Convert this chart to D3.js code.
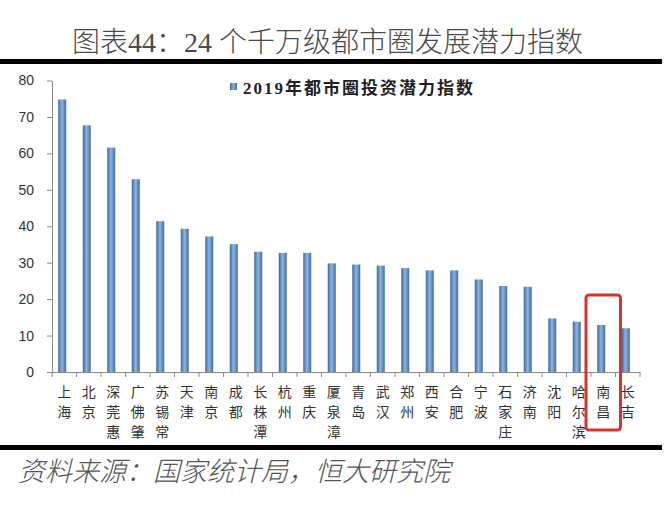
<!DOCTYPE html>
<html><head><meta charset="utf-8">
<script src="https://cdn.jsdelivr.net/npm/d3@7"></script>
<style>body{margin:0;background:#fff}svg{display:block}</style>
</head><body><svg id="c" width="669" height="509"></svg>
<script>
const categories = ["上海","北京","深莞惠","广佛肇","苏锡常","天津","南京","成都","长株潭","杭州","重庆","厦泉漳","青岛","武汉","郑州","西安","合肥","宁波","石家庄","济南","沈阳","哈尔滨","南昌","长吉"];
const values = [74.8,67.7,61.6,52.9,41.4,39.3,37.2,35.1,33.0,32.7,32.7,29.8,29.5,29.2,28.5,27.9,27.9,25.4,23.6,23.4,14.7,13.8,12.9,12.0];
const yTicks = [0,10,20,30,40,50,60,70,80];
const seriesName = "2019年都市圈投资潜力指数";
const titleText = "图表44：24 个千万级都市圈发展潜力指数";
const sourceText = "资料来源：国家统计局，恒大研究院";
const highlight = "南昌";

const svg = d3.select("#c");
const W = 669, H = 509;
const plot = {left: 52, right: 640, top: 80.5, bottom: 372};

const defs = svg.append("defs");
const grad = defs.append("linearGradient").attr("id","barGrad").attr("x1","0").attr("x2","1").attr("y1","0").attr("y2","0");
[[0,"#3a6899"],[0.45,"#8cb2de"],[0.6,"#7ba4d3"],[1,"#3d6c9f"]].forEach(([o,c])=>grad.append("stop").attr("offset",o).attr("stop-color",c));

// header / footer rules
svg.append("rect").attr("x",0).attr("y",59).attr("width",662).attr("height",5).attr("fill","#000");
svg.append("rect").attr("x",0).attr("y",445).attr("width",662).attr("height",5).attr("fill","#000");

svg.append("text").attr("x",72).attr("y",52)
  .attr("font-family","'Liberation Serif','Noto Sans CJK SC'")
  .attr("font-size",28).attr("font-weight",300).attr("fill","#4a4a4a")
  .text(titleText);

svg.append("text").attr("x",18).attr("y",481)
  .attr("font-family","'Noto Sans CJK SC'").attr("font-style","italic")
  .attr("font-size",27).attr("fill","#555").attr("font-weight",300)
  .text(sourceText);

const x = d3.scaleBand().domain(categories).range([plot.left, plot.right]);
const y = d3.scaleLinear().domain([0,80]).range([plot.bottom, plot.top]);
const bw = x.bandwidth();
const barW = 8;

// y axis
const yAxis = svg.append("g").attr("transform",`translate(${plot.left},0)`)
  .call(d3.axisLeft(y).tickValues(yTicks).tickSize(5).tickSizeOuter(0).tickPadding(13));
yAxis.selectAll("path,line").attr("stroke","#8a8a8a");
yAxis.selectAll("text").attr("font-family","'Liberation Sans',Arial").attr("font-size",14).attr("fill","#333");

// x axis
const xAxis = svg.append("g").attr("transform",`translate(0,${plot.bottom})`)
  .call(d3.axisBottom(x).tickSize(0).tickSizeOuter(0).tickFormat(""));
xAxis.select("path").attr("stroke","#8a8a8a");
xAxis.selectAll(".tick").remove();
const bounds = categories.map(c=>x(c)).concat([x(categories[categories.length-1])+bw]);
xAxis.selectAll("line.b").data(bounds).join("line").attr("class","b")
  .attr("x1",d=>d).attr("x2",d=>d).attr("y1",0).attr("y2",5).attr("stroke","#8a8a8a");

// bars
svg.append("g").selectAll("rect").data(categories).join("rect")
  .attr("x",(c)=>x(c)+bw/2-barW/2-2)
  .attr("width",barW)
  .attr("y",(c,i)=>y(values[i]))
  .attr("height",(c,i)=>y(0)-y(values[i]))
  .attr("fill","url(#barGrad)");

// category labels, vertical
const lab = svg.append("g").selectAll("text").data(categories).join("text")
  .attr("font-family","'Noto Sans CJK SC'").attr("font-size",14).attr("fill","#333")
  .attr("text-anchor","middle");
lab.each(function(c){
  const t = d3.select(this);
  Array.from(c).forEach((ch,k)=>{
    t.append("tspan").attr("x",x(c)+bw/2).attr("y",plot.bottom+25+k*20).text(ch);
  });
});

// legend
svg.append("rect").attr("x",230).attr("y",83).attr("width",7).attr("height",7).attr("fill","url(#barGrad)");
svg.append("text").attr("x",243).attr("y",94)
  .attr("font-family","'Liberation Serif','Noto Sans CJK SC'").attr("font-weight","bold")
  .attr("font-size",17).attr("letter-spacing",2).attr("fill","#222")
  .text(seriesName);

// highlight box
svg.append("rect").attr("x",x(highlight)-5).attr("y",295).attr("width",bw+10).attr("height",135)
  .attr("rx",3).attr("fill","none").attr("stroke","#d9322b").attr("stroke-width",3);
</script></body></html>
